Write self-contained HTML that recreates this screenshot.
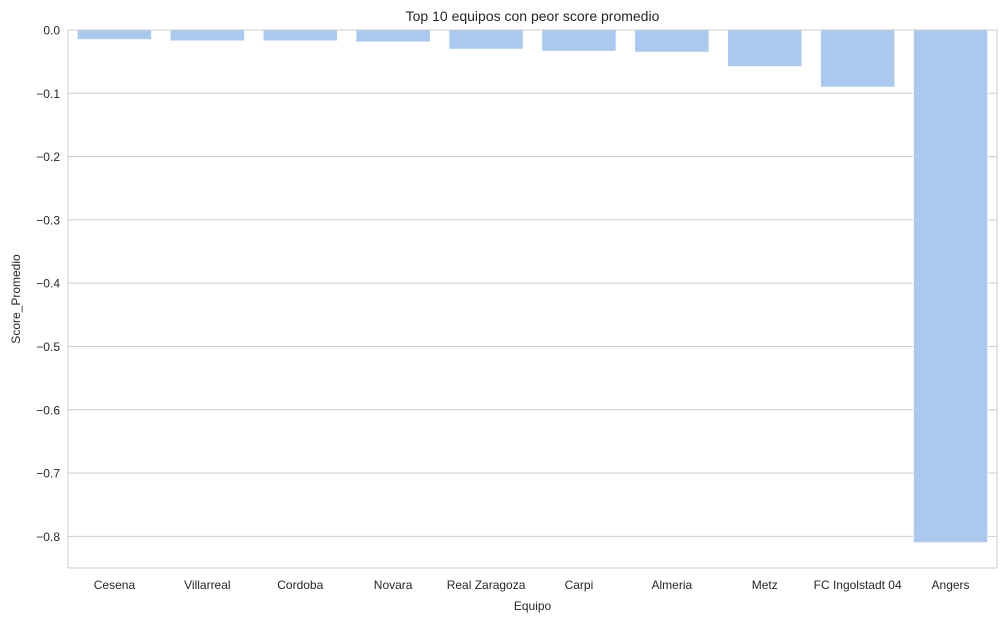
<!DOCTYPE html>
<html><head><meta charset="utf-8"><style>
body{margin:0;background:#fff;font-family:"Liberation Sans",sans-serif}
svg text{font-family:"Liberation Sans",sans-serif;fill:#262626}
</style></head><body>
<svg id="c" width="1006" height="622"></svg>
<script>
const categories=["Cesena","Villarreal","Cordoba","Novara","Real Zaragoza","Carpi","Almeria","Metz","FC Ingolstadt 04","Angers"];
const values=[-0.0151,-0.0173,-0.0173,-0.0189,-0.0303,-0.0335,-0.0351,-0.0578,-0.0903,-0.81];
const yTicks=[0,-0.1,-0.2,-0.3,-0.4,-0.5,-0.6,-0.7,-0.8];
const yTickLabels=["0.0","\u22120.1","\u22120.2","\u22120.3","\u22120.4","\u22120.5","\u22120.6","\u22120.7","\u22120.8"];
const L=68,R=997,T=30,B=568,yMin=-0.85,yMax=0;
const svg=document.getElementById('c');
const NS='http://www.w3.org/2000/svg';
function y(v){return T+(yMax-v)/(yMax-yMin)*(B-T);}
const band=(R-L)/categories.length;
function x(i){return L+band*i;}
function mk(t,a,p){const e=document.createElementNS(NS,t);for(const k in a)e.setAttribute(k,a[k]);(p||svg).appendChild(e);return e;}
yTicks.forEach((v,i)=>{
 const g=mk('line',{x1:L,x2:R,y1:y(v),y2:y(v),stroke:'#cccccc','stroke-width':1});
 
 
 const t=mk('text',{x:L-8,y:y(v)+4.5,'text-anchor':'end','font-size':12});
 t.textContent=yTickLabels[i];
 
 
});
categories.forEach((c,i)=>{
 const v=values[i];
 const r=mk('rect',{x:x(i)+band*0.1,y:y(0),width:band*0.8,height:y(v)-y(0),fill:'#abc9ee',stroke:'#ffffff','stroke-width':0.8});
 
 
 const t=mk('text',{x:x(i)+band/2,y:B+21,'text-anchor':'middle','font-size':12});
 t.textContent=c;
 
 
});
const f=mk('rect',{x:L,y:T,width:R-L,height:B-T,fill:'none',stroke:'#cccccc','stroke-width':1});


const ti=mk('text',{x:(L+R)/2,y:21,'text-anchor':'middle','font-size':14});
ti.textContent='Top 10 equipos con peor score promedio';


const xt=mk('text',{x:(L+R)/2,y:610,'text-anchor':'middle','font-size':12});
xt.textContent='Equipo';


const yt=mk('text',{x:20,y:(T+B)/2,'text-anchor':'middle','font-size':12,transform:'rotate(-90 20 '+((T+B)/2)+')'});
yt.textContent='Score_Promedio';


</script>
</body></html>
